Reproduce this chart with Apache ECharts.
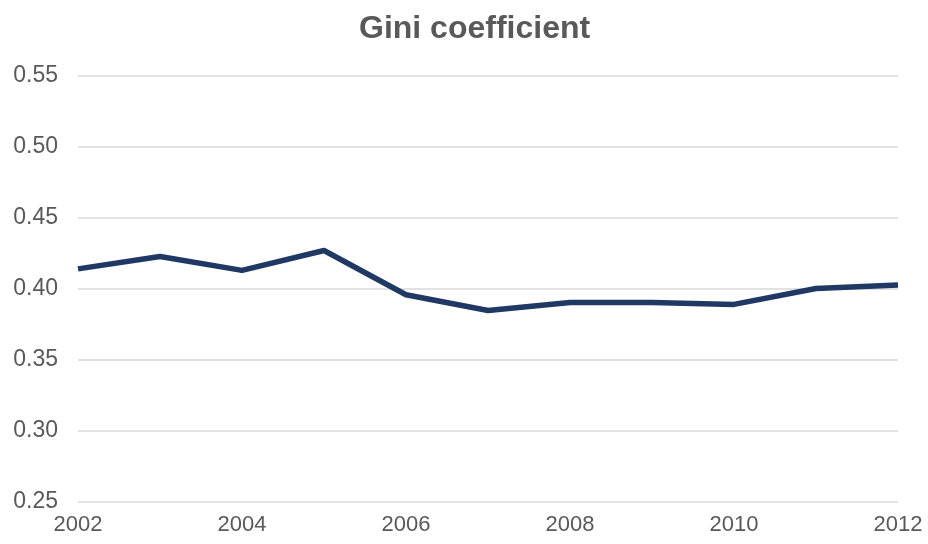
<!DOCTYPE html>
<html>
<head>
<meta charset="utf-8">
<script src="https://cdn.jsdelivr.net/npm/echarts@6/dist/echarts.min.js"></script>
<style>
  html, body { margin: 0; padding: 0; background: #ffffff; }
  #chart { width: 928px; height: 544px; }
</style>
</head>
<body>
<div id="chart"></div>
<script>
// Gini coefficient by year
const years = ['2002', '2003', '2004', '2005', '2006', '2007', '2008', '2009', '2010', '2011', '2012'];
const gini = [0.414, 0.4227, 0.4129, 0.4269, 0.3958, 0.3847, 0.3904, 0.3904, 0.389, 0.4002, 0.4026];
const yTicks = { min: 0.25, max: 0.55, step: 0.05 };

const chart = echarts.init(document.getElementById('chart'), null, { renderer: 'canvas' });
chart.setOption({
  animation: false,
  backgroundColor: '#ffffff',
  title: {
    text: 'Gini coefficient',
    left: 354,
    top: 8,
    textStyle: {
      fontFamily: 'Liberation Sans, Arial, sans-serif',
      fontSize: 32,
      fontWeight: 'bold',
      color: '#595959'
    }
  },
  grid: { left: 78, right: 30, top: 75.5, bottom: 42, containLabel: false },
  xAxis: {
    type: 'category',
    data: years,
    boundaryGap: false,
    axisLine: { show: false },
    axisTick: { show: false },
    splitLine: { show: false },
    axisLabel: {
      interval: 1,
      margin: 12,
      fontFamily: 'Liberation Sans, Arial, sans-serif',
      fontSize: 22,
      color: '#595959'
    }
  },
  yAxis: {
    type: 'value',
    min: yTicks.min,
    max: yTicks.max,
    interval: yTicks.step,
    axisLine: { show: false },
    axisTick: { show: false },
    splitLine: { lineStyle: { color: '#d9d9d9', width: 1.5 } },
    axisLabel: {
      margin: 20,
      fontFamily: 'Liberation Sans, Arial, sans-serif',
      fontSize: 23,
      color: '#595959',
      formatter: v => v.toFixed(2)
    }
  },
  series: [{
    type: 'line',
    data: gini,
    symbol: 'none',
    lineStyle: { color: '#203864', width: 5.5, join: 'round' },
    itemStyle: { color: '#203864' }
  }]
});
</script>
</body>
</html>
